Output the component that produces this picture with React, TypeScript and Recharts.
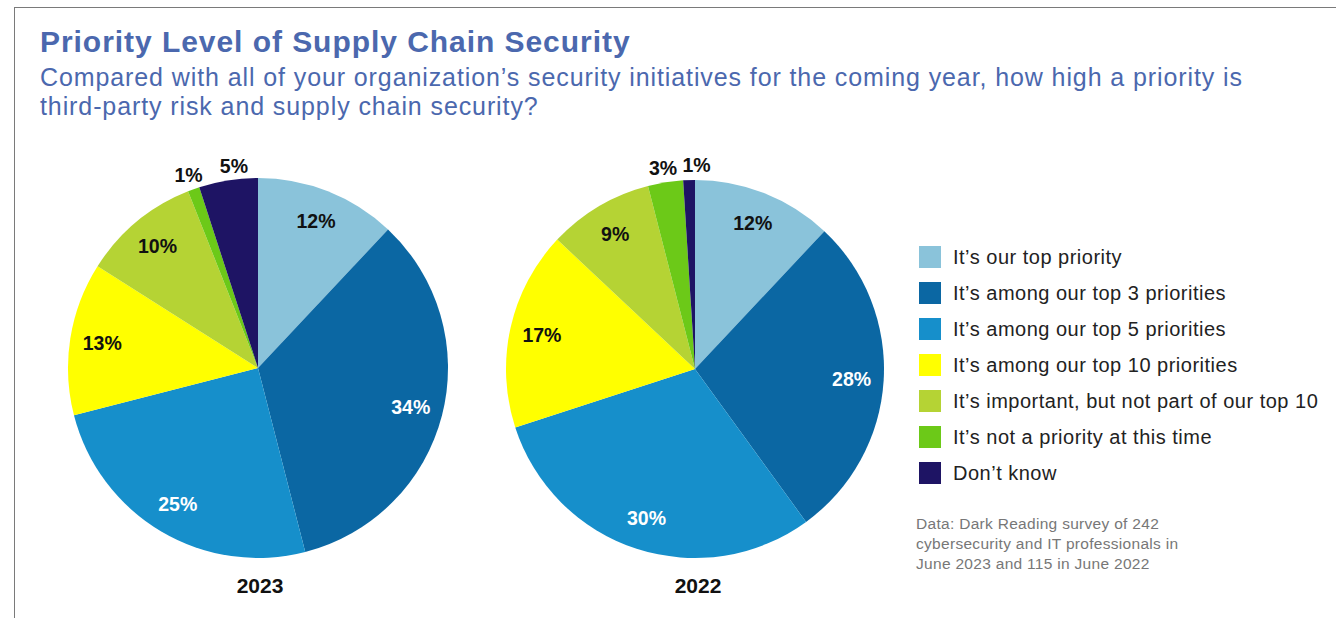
import React from "react";
import { Cell, Pie, PieChart } from "recharts";

const categories = [
  "It\u2019s our top priority",
  "It\u2019s among our top 3 priorities",
  "It\u2019s among our top 5 priorities",
  "It\u2019s among our top 10 priorities",
  "It\u2019s important, but not part of our top 10",
  "It\u2019s not a priority at this time",
  "Don\u2019t know",
];
const colors = ["#8AC3DA", "#0B67A3", "#168FCB", "#FFFF00", "#B5D334", "#6CC918", "#1E1464"];
const labelColors = ["#111", "#fff", "#fff", "#111", "#111", "#111", "#111"];
const values2023 = [12, 34, 25, 13, 10, 1, 5];
const values2022 = [12, 28, 30, 17, 9, 3, 1];

const FONT = "'Liberation Sans', Arial, Helvetica, sans-serif";
const BLUE = "#4B68AE";
const RAD = Math.PI / 180;

const toRows = (vals: number[]) => categories.map((name, i) => ({ name, value: vals[i] }));

function makeLabel(vals: number[]) {
  return (props: any) => {
    const { cx, cy, midAngle, outerRadius, value, index } = props;
    const outside = value <= 5;
    const r = outside ? outerRadius + 15 : outerRadius * 0.83;
    let x = cx + r * Math.cos(-midAngle * RAD);
    const y = cy + r * Math.sin(-midAngle * RAD);
    // push apart two neighbouring small labels near the top
    if (outside && index === vals.length - 1 && vals[index - 1] <= 5) x += 8;
    return (
      <text
        x={x}
        y={y}
        textAnchor="middle"
        dominantBaseline="central"
        fontFamily={FONT}
        fontWeight="bold"
        fontSize={19.5}
        fill={outside ? "#111" : labelColors[index]}
      >
        {value}%
      </text>
    );
  };
}

export default function App() {
  return (
    <div style={{ position: "absolute", left: 0, top: 0, width: 1336, height: 618, background: "#fff", fontFamily: FONT, overflow: "hidden" }}>
      <div style={{ position: "absolute", left: 14, top: 7, right: 0, height: 0, borderTop: "1.5px solid #7a7a7a" }} />
      <div style={{ position: "absolute", left: 14, top: 7, bottom: 0, width: 0, borderLeft: "1.5px solid #7a7a7a" }} />
      <div style={{ position: "absolute", left: 40, top: 27, fontSize: 30, lineHeight: "30px", letterSpacing: 0.95, fontWeight: "bold", color: BLUE, whiteSpace: "nowrap" }}>
        Priority Level of Supply Chain Security
      </div>
      <div style={{ position: "absolute", left: 40, top: 63, fontSize: 25, lineHeight: "29px", letterSpacing: 0.9, color: BLUE, whiteSpace: "nowrap" }}>
        Compared with all of your organization&rsquo;s security initiatives for the coming year, how high a priority is
        <br />
        third-party risk and supply chain security?
      </div>

      <div style={{ position: "absolute", left: 0, top: 0 }}>
        <PieChart width={1336} height={618} margin={{ top: 0, right: 0, bottom: 0, left: 0 }}>
          <Pie
            data={toRows(values2023)}
            dataKey="value"
            cx={258}
            cy={368}
            outerRadius={190}
            startAngle={90}
            endAngle={-270}
            stroke="none"
            labelLine={false}
            label={makeLabel(values2023)}
            isAnimationActive={false}
          >
            {values2023.map((_, i) => (
              <Cell key={i} fill={colors[i]} />
            ))}
          </Pie>
          <Pie
            data={toRows(values2022)}
            dataKey="value"
            cx={695}
            cy={369}
            outerRadius={189}
            startAngle={90}
            endAngle={-270}
            stroke="none"
            labelLine={false}
            label={makeLabel(values2022)}
            isAnimationActive={false}
          >
            {values2022.map((_, i) => (
              <Cell key={i} fill={colors[i]} />
            ))}
          </Pie>
        </PieChart>
      </div>

      <div style={{ position: "absolute", left: 210, width: 100, top: 574, textAlign: "center", fontSize: 21, lineHeight: "24px", fontWeight: "bold", color: "#111" }}>2023</div>
      <div style={{ position: "absolute", left: 648, width: 100, top: 574, textAlign: "center", fontSize: 21, lineHeight: "24px", fontWeight: "bold", color: "#111" }}>2022</div>

      <div style={{ position: "absolute", left: 919, top: 246 }}>
        {categories.map((c, i) => (
          <div key={c} style={{ display: "flex", alignItems: "center", height: 36, marginTop: i === 0 ? -7 : 0 }}>
            <div style={{ width: 22, height: 22, background: colors[i], marginRight: 12, flex: "none" }} />
            <span style={{ fontSize: 20, letterSpacing: 0.5, color: "#222", whiteSpace: "nowrap" }}>{c}</span>
          </div>
        ))}
      </div>

      <div style={{ position: "absolute", left: 916, top: 514, fontSize: 15.5, lineHeight: "20px", letterSpacing: 0.3, color: "#777" }}>
        Data: Dark Reading survey of 242
        <br />
        cybersecurity and IT professionals in
        <br />
        June 2023 and 115 in June 2022
      </div>
    </div>
  );
}
